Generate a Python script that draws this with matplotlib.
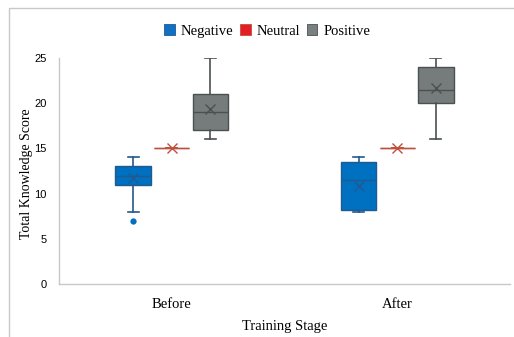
import numpy as np
import matplotlib
matplotlib.use("Agg")
import matplotlib.pyplot as plt
from matplotlib.patches import Patch, Rectangle

stages = ["Before", "After"]
groups = ["Negative", "Neutral", "Positive"]

# box summaries per group, one entry per training stage
neg_whislo = [8, 8]
neg_q1 = [11, 8.2]
neg_med = [12, 11.5]
neg_q3 = [13, 13.5]
neg_whishi = [14, 14]
neg_mean = [11.7, 10.8]
neg_fliers = [[7], []]

neu_whislo = [15, 15]
neu_q1 = [15, 15]
neu_med = [15, 15]
neu_q3 = [15, 15]
neu_whishi = [15, 15]
neu_mean = [15, 15]
neu_fliers = [[], []]

pos_whislo = [16, 16]
pos_q1 = [17, 20]
pos_med = [19, 21.5]
pos_q3 = [21, 24]
pos_whishi = [25, 25]
pos_mean = [19.4, 21.7]
pos_fliers = [[], []]

y_ticks = [0, 5, 10, 15, 20, 25]

fills = {"Negative": "#0070C0", "Neutral": "#E31E24", "Positive": "#767B7B"}
edges = {"Negative": "#22598F", "Neutral": "#C0503E", "Positive": "#4B5050"}
legend_fills = {"Negative": "#1071C4", "Neutral": "#E31E24", "Positive": "#7A7F7F"}

summaries = {
    "Negative": (neg_whislo, neg_q1, neg_med, neg_q3, neg_whishi, neg_mean, neg_fliers),
    "Neutral": (neu_whislo, neu_q1, neu_med, neu_q3, neu_whishi, neu_mean, neu_fliers),
    "Positive": (pos_whislo, pos_q1, pos_med, pos_q3, pos_whishi, pos_mean, pos_fliers),
}

serif = "Liberation Serif"
sans = "Liberation Sans"

fig = plt.figure(figsize=(5.14, 3.37), dpi=100)
ax = fig.add_axes([59 / 514, 53 / 337, 451 / 514, 226 / 337])

# light frame around the whole chart
fig.patches.append(Rectangle((9 / 514, -0.2), 1.2, 1.2 - 8 / 337,
                             transform=fig.transFigure, fill=False,
                             edgecolor="#C8C8C8", linewidth=1.0))

offset = 0.171
box_w = 0.157
x = np.arange(len(stages))

for g, name in enumerate(groups):
    wl, q1, md, q3, wh, mn, fl = summaries[name]
    stats = []
    for s in range(len(stages)):
        stats.append(dict(whislo=wl[s], q1=q1[s], med=md[s], q3=q3[s],
                          whishi=wh[s], mean=mn[s], fliers=fl[s]))
    pos = x + (g - 1) * offset
    ec = edges[name]
    ax.bxp(stats, positions=pos, widths=box_w, capwidths=0.05,
           patch_artist=True, showmeans=True, manage_ticks=False,
           boxprops=dict(facecolor=fills[name], edgecolor=ec, linewidth=1.0),
           medianprops=dict(color=ec, linewidth=1.0),
           whiskerprops=dict(color=ec, linewidth=1.2),
           capprops=dict(color=ec, linewidth=1.2),
           meanprops=dict(marker="x", markeredgecolor=ec, markersize=7,
                          markeredgewidth=1.0),
           flierprops=dict(marker="o", markerfacecolor=fills[name],
                           markeredgecolor=fills[name], markersize=3.5))

ax.set_xlim(-0.5, 1.5)
ax.set_ylim(0, 25)
ax.set_yticks(y_ticks)
ax.set_yticklabels([str(v) for v in y_ticks], fontfamily=sans, fontsize=8)
ax.set_xticks(x)
ax.set_xticklabels(stages, fontfamily=serif, fontsize=10.5)
ax.tick_params(axis="both", length=0)
ax.tick_params(axis="y", pad=9)
ax.tick_params(axis="x", pad=10)

for side in ["top", "right"]:
    ax.spines[side].set_visible(False)
for side in ["left", "bottom"]:
    ax.spines[side].set_color("#C8C8C8")
    ax.spines[side].set_linewidth(1.0)

ax.set_xlabel("Training Stage", fontfamily=serif, fontsize=10.5)
ax.xaxis.set_label_coords(0.50, -0.16)
ax.set_ylabel("Total Knowledge Score", fontfamily=serif, fontsize=10)
ax.yaxis.set_label_coords(-0.058, 0.49)

handles = [Patch(facecolor=legend_fills[n], edgecolor=edges[n], linewidth=0.6, label=n)
           for n in groups]
fig.legend(handles=handles, loc="center", bbox_to_anchor=(0.52, 0.908), ncol=3,
           frameon=False, prop=dict(family=serif, size=10.5),
           handlelength=0.7, handleheight=0.7, handletextpad=0.4,
           columnspacing=0.5)

fig.savefig("out.png", dpi=100)
